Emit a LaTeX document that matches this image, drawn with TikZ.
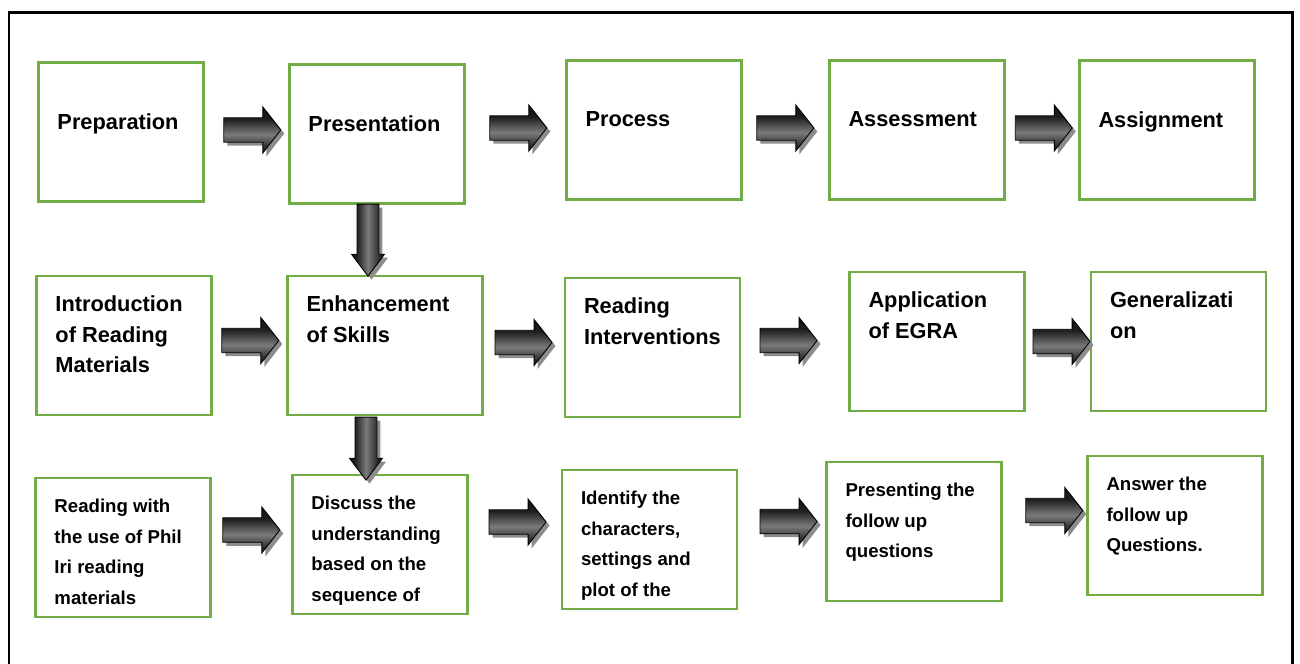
\documentclass[tikz,border=0pt]{standalone}
\usepackage{fontspec}
\setmainfont{Liberation Sans}
\usetikzlibrary{shapes.arrows,shadows,calc}
\definecolor{boxgreen}{RGB}{112,173,71}

\pgfdeclareverticalshading{arrowshadev}{100bp}{color(0bp)=(black); color(30bp)=(black!85); color(45bp)=(black!52); color(62bp)=(black!88); color(100bp)=(black)}
\pgfdeclarehorizontalshading{arrowshadeh}{100bp}{color(0bp)=(black); color(33bp)=(black!88); color(50bp)=(black!52); color(68bp)=(black!85); color(100bp)=(black)}

\tikzset{
	flowbox/.style={draw=boxgreen, line width=0.055cm, minimum width=3.5cm, minimum height=2.78cm, inner sep=0pt},
	boxtext/.style={anchor=north west, inner sep=0pt, align=left, font=\bfseries\fontsize{12.4}{17.3}\selectfont},
	smalltext/.style={boxtext, font=\bfseries\fontsize{10.6}{17.5}\selectfont},
	arrowbase/.style={single arrow, draw=black, line width=0.5pt,
		drop shadow={shadow xshift=0.07cm, shadow yshift=-0.07cm, fill=black!45, opacity=1}},
	rightarrow/.style={arrowbase, inner sep=0.105cm, minimum width=0.92cm, minimum height=1.14cm,
		single arrow head extend=0.1cm, single arrow tip angle=104, shade, shading=arrowshadev},
	downarrow/.style={arrowbase, shape border rotate=270, inner sep=0.09cm, minimum width=0.66cm,
		single arrow head extend=0.05cm, single arrow tip angle=74, shade, shading=arrowshadeh}
}

\begin{document}
\begin{tikzpicture}[x=0.02cm,y=-0.02cm]
		\clip (0,0) rectangle (1300,663);
		\draw[black, line width=0.06cm] (9,700) -- (9,12) -- (1292,12) -- (1292,700);

		% first row
		\node[flowbox, minimum width=3.3cm] (prep) at (121,132) {};
		\node[flowbox] (pres) at (377,134) {};
		\node[flowbox] (proc) at (654,130) {};
		\node[flowbox] (assess) at (917,130) {};
		\node[flowbox] (assign) at (1167,130) {};
		\node[boxtext] (tprep) at ([shift={(20,52.5)}]prep.north west) {Preparation};
		\node[boxtext] (tpres) at ([shift={(20,52.5)}]pres.north west) {Presentation};
		\node[boxtext] (tproc) at ([shift={(20,52.5)}]proc.north west) {Process};
		\node[boxtext] (tassess) at ([shift={(20,52.5)}]assess.north west) {Assessment};
		\node[boxtext] (tassign) at ([shift={(20,52.5)}]assign.north west) {Assignment};

		% second row
		\node[flowbox] (intro) at (124,345.5) {};
		\node[flowbox, minimum width=3.9cm] (enh) at (385,345.5) {};
		\node[flowbox] (interv) at (652.5,347.5) {};
		\node[flowbox] (egra) at (937,341.5) {};
		\node[flowbox] (gen) at (1178.5,341.5) {};
		\node[boxtext] (tintro) at ([shift={(20,21)}]intro.north west) {Introduction\\of Reading\\Materials};
		\node[boxtext] (tenh) at ([shift={(20,21)}]enh.north west) {Enhancement\\of Skills};
		\node[boxtext] (tinterv) at ([shift={(20,21)}]interv.north west) {Reading\\Interventions};
		\node[boxtext] (tegra) at ([shift={(20,21)}]egra.north west) {Application\\of EGRA};
		\node[boxtext] (tgen) at ([shift={(20,21)}]gen.north west) {Generalizati\\on};

		% third row
		\node[flowbox] (phil) at (123,547.5) {};
		\node[flowbox] (discuss) at (380,544.5) {};
		\node[flowbox] (identify) at (649.5,539.5) {};
		\node[flowbox] (present) at (914,531.5) {};
		\node[flowbox] (answer) at (1175,525.5) {};
		\node[smalltext] (tphil) at ([shift={(20,22)}]phil.north west) {Reading with\\the use of Phil\\Iri reading\\materials};
		\node[smalltext] (tdiscuss) at ([shift={(20,22)}]discuss.north west) {Discuss the\\understanding\\based on the\\sequence of};
		\node[smalltext] (tidentify) at ([shift={(20,22)}]identify.north west) {Identify the\\characters,\\settings and\\plot of the};
		\node[smalltext] (tpresent) at ([shift={(20,22)}]present.north west) {Presenting the\\follow up\\questions};
		\node[smalltext] (tanswer) at ([shift={(20,22)}]answer.north west) {Answer the\\follow up\\Questions.};

		% block arrows
		\node[rightarrow] (a1) at ($(prep.east)!.5!(pres.west)+(1,-3)$) {};
		\node[rightarrow] (a2) at ($(pres.east)!.5!(proc.west)+(-2,-4)$) {};
		\node[rightarrow] (a3) at ($(proc.east)!.5!(assess.west)+(-5,-2)$) {};
		\node[rightarrow] (a4) at ($(assess.east)!.5!(assign.west)+(-3,-2)$) {};
		\node[rightarrow] (b1) at ($(intro.east)!.5!(enh.west)+(-4,-5)$) {};
		\node[rightarrow] (b2) at ($(enh.east)!.5!(interv.west)+(-5,-4)$) {};
		\node[rightarrow] (b3) at ($(interv.east)!.5!(egra.west)+(-11,-4)$) {};
		\node[rightarrow] (b4) at ($(egra.east)!.5!(gen.west)+(-1,0)$) {};
		\node[rightarrow] (c1) at ($(phil.east)!.5!(discuss.west)+(-5,-16)$) {};
		\node[rightarrow] (c2) at ($(discuss.east)!.5!(identify.west)+(-2,-20)$) {};
		\node[rightarrow] (c3) at ($(identify.east)!.5!(present.west)+(2,-14)$) {};
		\node[rightarrow] (c4) at ($(present.east)!.5!(answer.west)+(5,-18)$) {};
		\node[downarrow, minimum height=1.44cm] (d1) at ($(pres.south)+(-9,28)$) {};
		\node[downarrow, minimum height=1.26cm] (d2) at ($(enh.south)+(-19,25)$) {};
	\end{tikzpicture}
\end{document}
